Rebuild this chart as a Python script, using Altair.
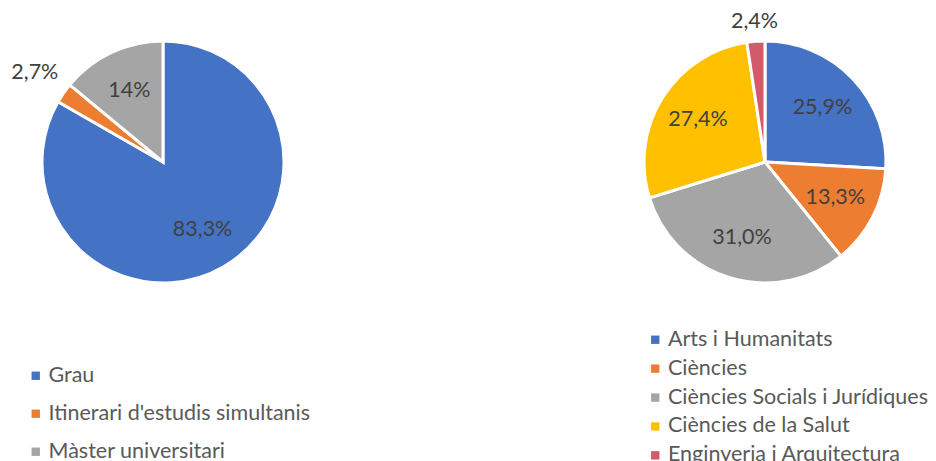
import altair as alt
import pandas as pd

left_cats = ["Grau", "Itinerari d'estudis simultanis", "Màster universitari"]
left_vals = [83.3, 2.7, 14.0]
left_labels = ["83,3%", "2,7%", "14%"]
left_colors = ["#4472C4", "#ED7D31", "#A5A5A5"]

right_cats = ["Arts i Humanitats", "Ciències", "Ciències Socials i Jurídiques",
              "Ciències de la Salut", "Enginyeria i Arquitectura"]
right_vals = [25.9, 13.3, 31.0, 27.4, 2.4]
right_labels = ["25,9%", "13,3%", "31,0%", "27,4%", "2,4%"]
right_colors = ["#4472C4", "#ED7D31", "#A5A5A5", "#FFC000", "#D25A6B"]

FONT = "Lato"


def pie(cats, vals, labels, colors, cx, cy, out_r, lx, ly, row_pad):
    df = pd.DataFrame({"cat": cats, "val": vals, "label": labels,
                       "ord": list(range(len(cats)))})
    base = alt.Chart(df).encode(
        theta=alt.Theta("val:Q", stack=True),
        order=alt.Order("ord:Q"),
        x=alt.value(cx),
        y=alt.value(cy),
    )
    arc = base.mark_arc(outerRadius=121, stroke="white", strokeWidth=3).encode(
        color=alt.Color(
            "cat:N",
            sort=cats,
            scale=alt.Scale(domain=cats, range=colors),
            legend=alt.Legend(
                title=None, orient="none", legendX=lx, legendY=ly,
                labelFont=FONT, labelFontSize=21.5, labelColor="#595959",
                symbolType="square", symbolSize=70, symbolStrokeWidth=0,
                rowPadding=row_pad, padding=0, labelLimit=500, labelOffset=2,
            ),
        )
    )
    inner = base.mark_text(font=FONT, fontSize=21.5, color="#404040", radius=79).encode(
        text=alt.condition("datum.val >= 5", alt.Text("label:N"), alt.value("")),
    )
    outer = base.mark_text(font=FONT, fontSize=21.5, color="#404040", radius=out_r).encode(
        text=alt.condition("datum.val < 5", alt.Text("label:N"), alt.value("")),
    )
    return alt.layer(arc, inner, outer)


left = pie(left_cats, left_vals, left_labels, left_colors, 155, 154, 156, 17, 357, 15)
right = pie(right_cats, right_vals, right_labels, right_colors, 757, 154, 140, 636.5, 321, 5.9)

chart = alt.layer(left, right).resolve_scale(
    color="independent", theta="independent"
).properties(
    width=920, height=453, padding=0,
    autosize=alt.AutoSizeParams(type="none"),
).configure_view(stroke=None)

chart.save("out.html", embed_options={"renderer": "svg", "actions": False})
